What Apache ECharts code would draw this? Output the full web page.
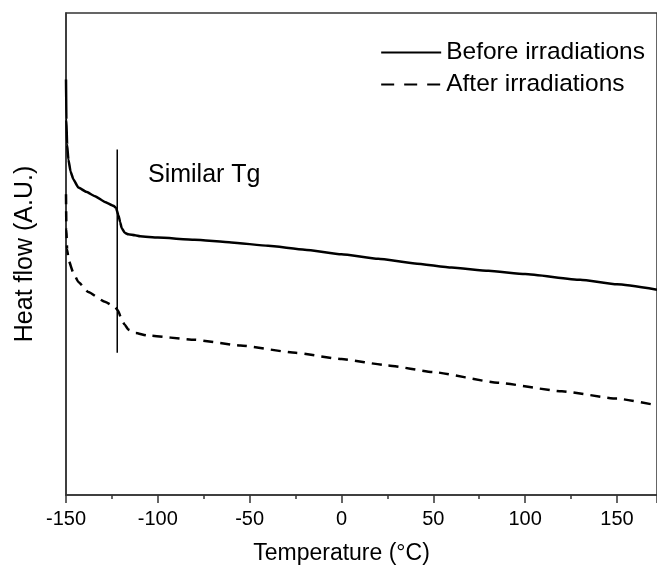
<!DOCTYPE html>
<html>
<head>
<meta charset="utf-8">
<script src="https://cdn.jsdelivr.net/npm/echarts@6/dist/echarts.min.js"></script>
<style>html,body{margin:0;padding:0;background:#fff;overflow:hidden}#c{width:700px;height:570px}</style>
</head>
<body>
<div id="c"></div>
<script>
// Temperature (°C) and heat flow (arbitrary units)
var beforeT = [-150, -149.8, -149.4, -148.7, -147.5, -146.0, -143.3, -139, -134.2, -128.8, -124.2, -122.8, -121.5, -120.5, -119.7, -118, -116.1, -112.4, -109.7, -100, -80, -60, -40, -20, 0, 20, 40, 60, 80, 100, 130, 150, 171.8];
var beforeHF = [86.2, 77.9, 72.7, 69.6, 67.1, 65.5, 63.8, 62.9, 62.0, 60.8, 60.0, 59.6, 58.1, 56.6, 55.4, 54.4, 54.1, 53.9, 53.7, 53.4, 52.95, 52.4, 51.7, 50.9, 49.95, 49.0, 48.05, 47.2, 46.5, 45.85, 44.65, 43.7, 42.6];
var afterT = [-150, -149.8, -149.4, -148.5, -146.0, -143.3, -137.9, -128.8, -123.3, -121.5, -120, -118, -116, -112, -106, -80, -55, -25, 0, 25, 50, 85, 120, 150, 171.8];
var afterHF = [62.4, 55.2, 51.0, 48.6, 46.1, 44.2, 42.1, 40.1, 39.0, 38.2, 36.6, 35.3, 34.3, 33.6, 33.1, 32.2, 31.0, 29.5, 28.2, 26.9, 25.5, 23.3, 21.5, 20.0, 18.6];
var tgT = [-122.1, -122.1];
var tgHF = [71.7, 29.5];
var xTicks = [-150, -100, -50, 0, 50, 100, 150];
var seriesNames = ['Before irradiations', 'After irradiations'];

function pairs(xs, ys) { return xs.map(function (x, i) { return [x, ys[i]]; }); }

var chart = echarts.init(document.getElementById('c'), null, {renderer: 'canvas'});
var font = 'Liberation Sans, Arial, sans-serif';
chart.setOption({
  animation: false,
  backgroundColor: '#fff',
  grid: {left: 66, top: 13, right: 43, bottom: 73, show: true, borderColor: '#333', borderWidth: 1.5},
  legend: {
    data: [
      {name: seriesNames[0]},
      {name: seriesNames[1], lineStyle: {type: [13, 10]}}
    ],
    orient: 'vertical', right: 50, top: 35,
    itemWidth: 60, itemHeight: 14, itemGap: 7,
    itemStyle: {color: 'rgba(0,0,0,0)', borderColor: 'rgba(0,0,0,0)', borderWidth: 0, opacity: 0},
    textStyle: {fontFamily: font, fontSize: 24.5, color: '#000', lineHeight: 24}
  },
  xAxis: [{
    type: 'value', min: -150, max: 171.8, interval: 50,
    axisLine: {onZero: false, lineStyle: {color: '#333', width: 1.5}},
    axisTick: {show: true, length: 8, lineStyle: {color: '#333', width: 1.5}},
    axisLabel: {fontFamily: font, fontSize: 20, color: '#000', margin: 14,
      formatter: function (v) { return xTicks.indexOf(v) >= 0 ? String(v) : ''; }},
    splitLine: {show: false},
    name: 'Temperature (°C)', nameLocation: 'middle', nameGap: 47,
    nameTextStyle: {fontFamily: font, fontSize: 23, color: '#000', padding: [0, 40, 0, 0]}
  }, {
    type: 'value', min: -150, max: 171.8, interval: 25, position: 'bottom',
    axisLine: {show: false, onZero: false},
    axisTick: {show: true, length: 4, lineStyle: {color: '#333', width: 1.5}},
    axisLabel: {show: false}, splitLine: {show: false}
  }],
  yAxis: {
    type: 'value', min: 0, max: 100,
    axisLine: {show: true, onZero: false, lineStyle: {color: '#333', width: 1.5}},
    axisTick: {show: false}, axisLabel: {show: false}, splitLine: {show: false},
    name: 'Heat flow (A.U.)', nameLocation: 'middle', nameGap: 28,
    nameTextStyle: {fontFamily: font, fontSize: 25, color: '#000'}
  },
  graphic: [{
    type: 'text', left: 148, top: 163,
    style: {text: 'Similar Tg', font: '25px ' + font, fill: '#000'}
  }],
  series: [{
    name: seriesNames[0], type: 'line', data: pairs(beforeT, beforeHF),
    showSymbol: false, symbol: 'none', smooth: 0.15, smoothMonotone: 'x',
    lineStyle: {color: '#000', width: 2.5}, itemStyle: {color: '#000'}
  }, {
    name: seriesNames[1], type: 'line', data: pairs(afterT, afterHF),
    showSymbol: false, symbol: 'none', smooth: 0.15, smoothMonotone: 'x',
    lineStyle: {color: '#000', width: 2.5, type: [10, 7]}, itemStyle: {color: '#000'}
  }, {
    name: 'Tg', type: 'line', data: pairs(tgT, tgHF),
    showSymbol: false, symbol: 'none',
    lineStyle: {color: '#000', width: 1.5}, itemStyle: {color: '#000'}
  }]
});
</script>
</body>
</html>
